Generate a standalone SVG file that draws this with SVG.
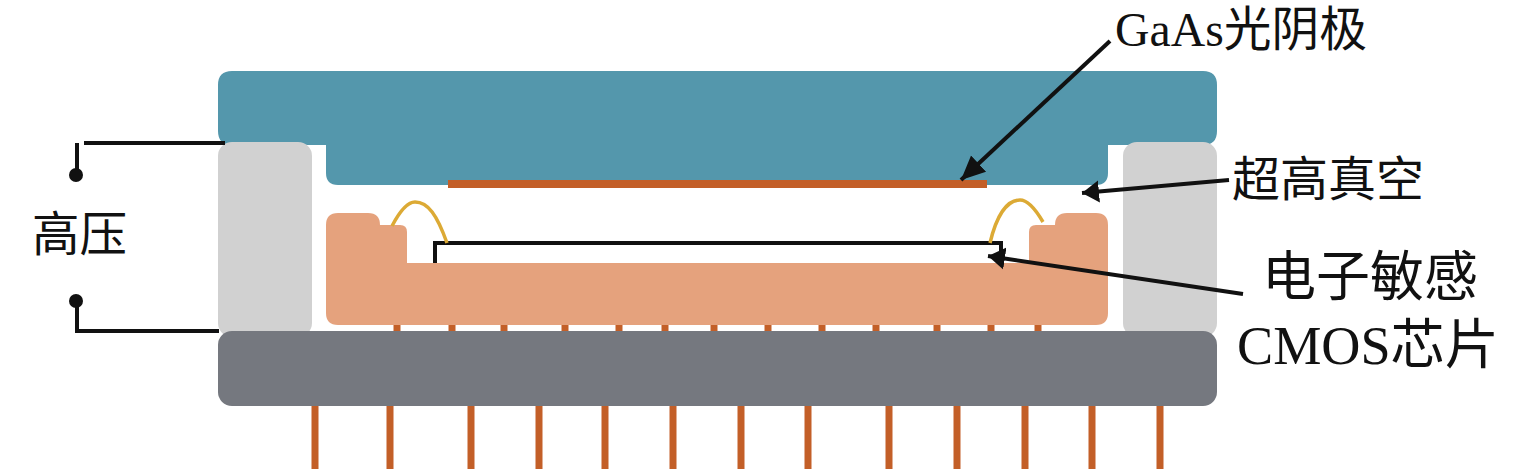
<svg xmlns="http://www.w3.org/2000/svg" width="1535" height="474" viewBox="0 0 1535 474">
<defs>
<style>
.t{font-family:"Liberation Serif","Noto Sans CJK SC",serif;fill:#111}
.pin{stroke:#c35f28;fill:none}
.ln{stroke:#111;fill:none;stroke-width:4}
.wire{stroke:#dcaa35;fill:none;stroke-width:3.5}
.dot{fill:#111}
</style>
<marker id="ah" markerUnits="userSpaceOnUse" markerWidth="20" markerHeight="24" refX="17" refY="12" orient="auto"><path d="M0,1L17,12L0,23Z" fill="#111"/></marker>
<marker id="ahl" markerUnits="userSpaceOnUse" markerWidth="26" markerHeight="24" refX="24" refY="12" orient="auto"><path d="M0,1L24,12L0,23Z" fill="#111"/></marker>
</defs>
<rect width="1535" height="474" fill="#fff"/>
<g id="pins-lower" class="pin" stroke-width="7">
<path d="M315,405V469M390,405V469M471,405V469M539,405V469M605,405V469M673,405V469M741,405V469M808,405V469M889,405V469M957,405V469M1025,405V469M1092,405V469M1160,405V469"/>
</g>
<g id="pins-upper" class="pin" stroke-width="7">
<path d="M397,324V333M452,324V333M504,324V333M565,324V333M619,324V333M665,324V333M714,324V333M768,324V333M822,324V333M876,324V333M937,324V333M991,324V333M1038,324V333"/>
</g>
<g id="window"><path d="M232,71H1203Q1217,71 1217,85V131Q1217,145 1203,145H1108V173Q1108,185 1096,185H338Q326,185 326,173V145H232Q218,145 218,131V85Q218,71 232,71Z" fill="#5497ac"/></g>
<g id="spacer-left"><rect x="218" y="142" width="94" height="195" rx="14" fill="#d1d1d1"/></g>
<g id="spacer-right"><rect x="1123" y="142" width="94" height="195" rx="14" fill="#d1d1d1"/></g>
<g id="photocathode"><rect x="448" y="180" width="539" height="8" fill="#c35f28"/></g>
<g id="chip-carrier"><path d="M338,213H368Q380,213 380,225H400Q407,225 407,232V263H1029V232Q1029,225 1036,225H1055Q1055,213 1067,213H1096Q1108,213 1108,225V313Q1108,325 1096,325H338Q326,325 326,313V225Q326,213 338,213Z" fill="#e5a27d"/></g>
<g id="cmos-chip"><path class="ln" d="M435,263V243H1001V263"/></g>
<g id="base"><rect x="218" y="331" width="999" height="75" rx="14" fill="#75787f"/></g>
<g id="bond-wires">
<path class="wire" d="M392,226C402,207 410,202 415,202C428,202 437,215 447,243"/>
<path class="wire" d="M990,243C996,218 1006,200 1020,200C1028,200 1036,210 1043,222"/>
</g>
<g id="connectors">
<path class="ln" d="M84,143H225M77,143V175"/>
<path class="ln" d="M77,301V331H219"/>
<circle class="dot" cx="76" cy="175" r="7"/>
<circle class="dot" cx="76" cy="301" r="7"/>
<path class="ln" d="M1110,41L961,180" marker-end="url(#ahl)"/>
<path class="ln" d="M1229,180L1082,193" marker-end="url(#ah)"/>
<path class="ln" d="M1243,294L988,256" marker-end="url(#ah)"/>
</g>
<g id="labels">
<text class="t" x="1115" y="46" font-size="47.5" textLength="252" lengthAdjust="spacingAndGlyphs">GaAs光阴极</text>
<text class="t" x="1232" y="196" font-size="48">超高真空</text>
<text class="t" x="32" y="251" font-size="47.5">高压</text>
<text class="t" x="1262" y="296" font-size="54">电子敏感</text>
<text class="t" x="1237" y="364" font-size="54" textLength="262" lengthAdjust="spacingAndGlyphs">CMOS芯片</text>
</g>
</svg>
